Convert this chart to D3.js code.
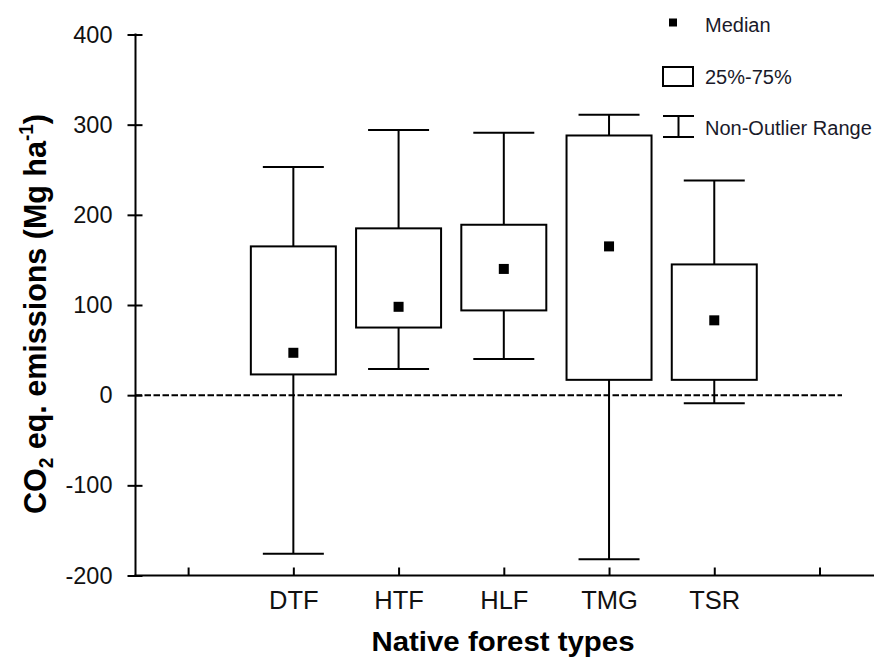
<!DOCTYPE html>
<html>
<head>
<meta charset="utf-8">
<script src="https://cdn.jsdelivr.net/npm/d3@7"></script>
<style>
  body { margin: 0; background: #fff; }
  svg { display: block; font-family: "Liberation Sans", Arial, sans-serif; }
</style>
</head>
<body>
<svg id="chart" width="874" height="659"></svg>
<script>
// values (Mg ha-1)
const categories = ["DTF", "HTF", "HLF", "TMG", "TSR"];
const whiskerLow = [-176, 29, 40, -182, -9];
const q1 = [23, 75, 94, 17, 17];
const medians = [47, 98, 140, 165, 83];
const q3 = [165, 185, 189, 288, 145];
const whiskerHigh = [253, 294, 291, 311, 238];
const yTicks = [-200, -100, 0, 100, 200, 300, 400];
const xTicks = [0, 1, 2, 3, 4, 5, 6];

const svg = d3.select("#chart");

const x = d3.scaleLinear().domain([-0.5, 6]).range([135.5, 819.5]);
const y = d3.scaleLinear().domain([-200, 400]).range([575.5, 34.5]);

const boxWidth = 85;
const capWidth = 61;
const medSize = 10;

const boxes = categories.map((c, i) => ({
	name: c,
	pos: i + 1,
	lo: whiskerLow[i],
	q1: q1[i],
	med: medians[i],
	q3: q3[i],
	hi: whiskerHigh[i]
}));

// zero reference line
svg.append("line")
	.attr("x1", x(-0.5)).attr("x2", 842)
	.attr("y1", y(0)).attr("y2", y(0))
	.attr("stroke", "#000")
	.attr("stroke-width", 2)
	.attr("stroke-dasharray", "6.5,2.5");

// boxes
const g = svg.append("g").attr("class", "boxes");
const box = g.selectAll(".box")
	.data(boxes)
	.enter()
	.append("g")
	.attr("class", "box");

box.append("line")
	.attr("x1", d => x(d.pos)).attr("x2", d => x(d.pos))
	.attr("y1", d => y(d.hi)).attr("y2", d => y(d.q3))
	.attr("stroke", "#000").attr("stroke-width", 2);
box.append("line")
	.attr("x1", d => x(d.pos)).attr("x2", d => x(d.pos))
	.attr("y1", d => y(d.q1)).attr("y2", d => y(d.lo))
	.attr("stroke", "#000").attr("stroke-width", 2);
box.append("line")
	.attr("x1", d => x(d.pos) - capWidth / 2).attr("x2", d => x(d.pos) + capWidth / 2)
	.attr("y1", d => y(d.hi)).attr("y2", d => y(d.hi))
	.attr("stroke", "#000").attr("stroke-width", 2);
box.append("line")
	.attr("x1", d => x(d.pos) - capWidth / 2).attr("x2", d => x(d.pos) + capWidth / 2)
	.attr("y1", d => y(d.lo)).attr("y2", d => y(d.lo))
	.attr("stroke", "#000").attr("stroke-width", 2);
box.append("rect")
	.attr("x", d => x(d.pos) - boxWidth / 2)
	.attr("width", boxWidth)
	.attr("y", d => y(d.q3))
	.attr("height", d => y(d.q1) - y(d.q3))
	.attr("fill", "#fff")
	.attr("stroke", "#000").attr("stroke-width", 2);
box.append("rect")
	.attr("x", d => x(d.pos) - medSize / 2)
	.attr("y", d => y(d.med) - medSize / 2)
	.attr("width", medSize).attr("height", medSize)
	.attr("fill", "#000");

// y axis
const yAxis = svg.append("g")
	.attr("transform", `translate(${x(-0.5)},0)`)
	.call(d3.axisLeft(y).tickValues(yTicks).tickSize(8).tickPadding(15)
		.tickFormat(d => String(d)));
yAxis.select(".domain").remove();
yAxis.selectAll(".tick line").attr("x1", 7).attr("stroke-width", 2);
yAxis.selectAll(".tick text")
	.style("font-size", "23.5px")
	.attr("fill", "#111");
svg.append("line")
	.attr("x1", x(-0.5)).attr("x2", x(-0.5))
	.attr("y1", y(400) - 1).attr("y2", y(-200) + 1)
	.attr("stroke", "#000").attr("stroke-width", 2);

// x axis
const xAxis = svg.append("g")
	.attr("transform", `translate(0,${y(-200)})`)
	.call(d3.axisBottom(x).tickValues(xTicks).tickSize(-8)
		.tickFormat(d => categories[d - 1] || ""));
xAxis.select(".domain").remove();
xAxis.selectAll(".tick line").attr("stroke-width", 2);
xAxis.selectAll(".tick text")
	.attr("y", 15)
	.style("font-size", "25.5px")
	.attr("fill", "#111");
svg.append("line")
	.attr("x1", x(-0.5) - 1).attr("x2", 874)
	.attr("y1", y(-200)).attr("y2", y(-200))
	.attr("stroke", "#000").attr("stroke-width", 2);

// axis titles
svg.append("text")
	.attr("x", 503).attr("y", 651)
	.attr("text-anchor", "middle")
	.attr("textLength", 263)
	.attr("lengthAdjust", "spacingAndGlyphs")
	.style("font-size", "27px")
	.style("font-weight", "bold")
	.text("Native forest types");

const yTitle = svg.append("text")
	.attr("transform", "translate(46,314) rotate(-90)")
	.attr("text-anchor", "middle")
	.attr("textLength", 400)
	.attr("lengthAdjust", "spacingAndGlyphs")
	.style("font-size", "32px")
	.style("font-weight", "bold");
yTitle.append("tspan").text("CO");
yTitle.append("tspan").attr("dy", 7).style("font-size", "20px").text("2");
yTitle.append("tspan").attr("dy", -7).text(" eq. emissions (Mg ha");
yTitle.append("tspan").attr("dy", -13).style("font-size", "20px").text("-1");
yTitle.append("tspan").attr("dy", 13).text(")");

// legend
const legend = svg.append("g").attr("class", "legend");
legend.append("rect")
	.attr("x", 669).attr("y", 18.5).attr("width", 8).attr("height", 8)
	.attr("fill", "#000");
legend.append("text").attr("x", 705).attr("y", 32).text("Median");
legend.append("rect")
	.attr("x", 663).attr("y", 67).attr("width", 30).attr("height", 19)
	.attr("fill", "#fff").attr("stroke", "#000").attr("stroke-width", 2);
legend.append("text").attr("x", 705).attr("y", 84).text("25%-75%");
legend.append("line")
	.attr("x1", 663).attr("x2", 694).attr("y1", 116).attr("y2", 116)
	.attr("stroke", "#000").attr("stroke-width", 2);
legend.append("line")
	.attr("x1", 663).attr("x2", 694).attr("y1", 137).attr("y2", 137)
	.attr("stroke", "#000").attr("stroke-width", 2);
legend.append("line")
	.attr("x1", 678.5).attr("x2", 678.5).attr("y1", 116).attr("y2", 137)
	.attr("stroke", "#000").attr("stroke-width", 2);
legend.append("text").attr("x", 705).attr("y", 135).text("Non-Outlier Range");
legend.selectAll("text")
	.style("font-size", "20px")
	.attr("fill", "#1a1a2a");
</script>
</body>
</html>
